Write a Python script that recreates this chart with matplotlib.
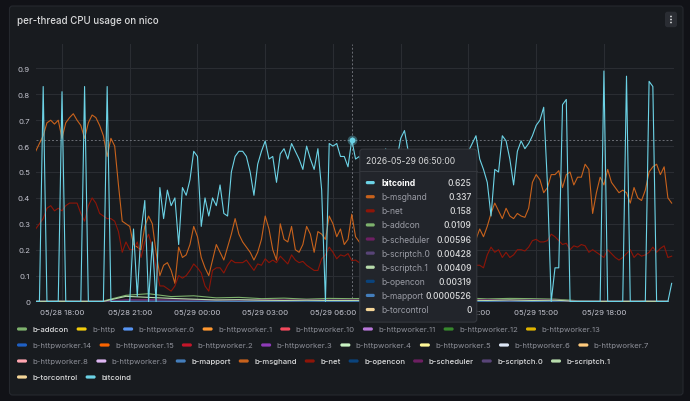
import numpy as np
import matplotlib.pyplot as plt
import matplotlib.dates as mdates
from matplotlib.patches import FancyBboxPatch, Circle
from matplotlib.transforms import Affine2D
from matplotlib.ticker import FuncFormatter, MultipleLocator
from datetime import datetime, timedelta

plt.rcParams['font.family'] = ['Inter', 'DejaVu Sans']

# ------------------------------------------------------------------
# data (CPU share per thread), 10 min samples for the busy threads,
# hourly samples for the quiet ones
# ------------------------------------------------------------------
start = datetime(2026, 5, 28, 16, 50)
step_main = timedelta(minutes=10)
step_small = timedelta(hours=1)
hover_time = datetime(2026, 5, 29, 6, 50)

bitcoind = [
    0, 0, 0.83, 0, 0, 0, 0, 0.81, 0, 0,
    0, 0, 0, 0.83, 0, 0, 0, 0, 0, 0.83,
    0, 0, 0, 0, 0, 0, 0.28, 0.02, 0.27, 0.39,
    0, 0.23, 0, 0.44, 0.32, 0.43, 0.37, 0.40, 0.22, 0.44,
    0.41, 0.47, 0.58, 0.56, 0.29, 0.40, 0.33, 0.40, 0.37, 0.45,
    0.34, 0.33, 0.50, 0.56, 0.58, 0.58, 0.56, 0.50, 0.41, 0.53,
    0.58, 0.62, 0.55, 0.56, 0.46, 0.57, 0.59, 0.55, 0.61, 0.58,
    0.55, 0.51, 0.60, 0.55, 0.51, 0.59, 0.43, 0.0, 0.61, 0.60,
    0.61, 0.56, 0.56, 0.52, 0.625, 0.55, 0.56, 0.52, 0.48, 0.55,
    0.50, 0.44, 0.53, 0.59, 0.54, 0.47, 0.55, 0.63, 0.66, 0.58,
    0.50, 0.53, 0.46, 0.55, 0.50, 0.42, 0.48, 0.56, 0.51, 0.45,
    0.52, 0.57, 0.49, 0.53, 0.56, 0.58, 0.61, 0.64, 0.55, 0.51,
    0.46, 0.33, 0.51, 0.50, 0.64, 0.62, 0.55, 0.45, 0.58, 0.62,
    0.59, 0.61, 0.64, 0.68, 0.70, 0.75, 0.45, 0.0, 0.13, 0.13,
    0.76, 0.78, 0.0, 0, 0, 0, 0, 0, 0, 0,
    0, 0.89, 0, 0, 0, 0, 0, 0.87, 0, 0,
    0, 0, 0, 0.85, 0.83, 0, 0, 0, 0, 0.07,
]
b_msghand = [
    0.58, 0.61, 0.64, 0.69, 0.70, 0.685, 0.70, 0.63, 0.69, 0.71,
    0.725, 0.70, 0.68, 0.63, 0.69, 0.72, 0.71, 0.68, 0.64, 0.56,
    0.63, 0.60, 0.45, 0.31, 0.30, 0.29, 0.22, 0.21, 0.20, 0.29,
    0.33, 0.30, 0.19, 0.10, 0.14, 0.15, 0.12, 0.07, 0.21, 0.17,
    0.18, 0.22, 0.29, 0.25, 0.17, 0.13, 0.10, 0.16, 0.22, 0.19,
    0.16, 0.21, 0.26, 0.32, 0.26, 0.23, 0.21, 0.19, 0.16, 0.19,
    0.24, 0.33, 0.28, 0.20, 0.16, 0.30, 0.24, 0.23, 0.29, 0.20,
    0.19, 0.22, 0.29, 0.26, 0.19, 0.27, 0.26, 0.24, 0.33, 0.30,
    0.25, 0.28, 0.22, 0.24, 0.337, 0.25, 0.23, 0.21, 0.25, 0.28,
    0.22, 0.18, 0.24, 0.30, 0.26, 0.21, 0.27, 0.32, 0.28, 0.23,
    0.19, 0.25, 0.29, 0.24, 0.20, 0.26, 0.31, 0.27, 0.22, 0.25,
    0.30, 0.26, 0.21, 0.24, 0.28, 0.23, 0.20, 0.24, 0.28, 0.25,
    0.29, 0.34, 0.38, 0.35, 0.32, 0.36, 0.33, 0.32, 0.34, 0.33,
    0.325, 0.36, 0.46, 0.49, 0.47, 0.42, 0.44, 0.49, 0.49, 0.505,
    0.44, 0.49, 0.50, 0.45, 0.48, 0.48, 0.53, 0.51, 0.34, 0.42,
    0.48, 0.45, 0.51, 0.46, 0.44, 0.42, 0.43, 0.42, 0.38, 0.44,
    0.40, 0.39, 0.43, 0.50, 0.52, 0.53, 0.49, 0.52, 0.40, 0.38,
]
b_net = [
    0.28, 0.30, 0.32, 0.36, 0.37, 0.35, 0.36, 0.35, 0.37, 0.38,
    0.38, 0.38, 0.34, 0.31, 0.37, 0.40, 0.38, 0.34, 0.33, 0.32,
    0.32, 0.31, 0.27, 0.19, 0.23, 0.20, 0.20, 0.23, 0.17, 0.23,
    0.26, 0.21, 0.13, 0.06, 0.06, 0.05, 0.04, 0.06, 0.10, 0.09,
    0.10, 0.12, 0.145, 0.13, 0.11, 0.06, 0.04, 0.12, 0.13, 0.13,
    0.11, 0.14, 0.16, 0.15, 0.15, 0.15, 0.16, 0.14, 0.12, 0.145,
    0.14, 0.165, 0.15, 0.16, 0.15, 0.175, 0.16, 0.145, 0.18, 0.16,
    0.15, 0.155, 0.14, 0.13, 0.12, 0.12, 0.165, 0.18, 0.21, 0.19,
    0.165, 0.18, 0.175, 0.185, 0.158, 0.16, 0.15, 0.14, 0.15, 0.13,
    0.14, 0.12, 0.15, 0.16, 0.14, 0.13, 0.15, 0.17, 0.15, 0.13,
    0.12, 0.14, 0.16, 0.15, 0.13, 0.14, 0.16, 0.15, 0.13, 0.14,
    0.15, 0.14, 0.12, 0.13, 0.15, 0.14, 0.13, 0.14, 0.14, 0.13,
    0.18, 0.21, 0.19, 0.20, 0.17, 0.19, 0.17, 0.18, 0.20, 0.20,
    0.195, 0.21, 0.235, 0.24, 0.23, 0.23, 0.235, 0.26, 0.25, 0.235,
    0.22, 0.225, 0.20, 0.215, 0.21, 0.22, 0.215, 0.19, 0.20, 0.19,
    0.18, 0.17, 0.20, 0.185, 0.17, 0.16, 0.17, 0.185, 0.20, 0.17,
    0.185, 0.175, 0.18, 0.19, 0.21, 0.19, 0.205, 0.215, 0.17, 0.175,
]
b_addcon = [0.002, 0.003, 0.002, 0.002, 0.024, 0.03, 0.019, 0.022, 0.014, 0.016,
            0.011, 0.013, 0.009, 0.012, 0.0109, 0.013, 0.010, 0.012, 0.009, 0.014,
            0.010, 0.012, 0.011, 0.009, 0.003, 0.002, 0.002, 0.003, 0.002]
b_scheduler = [0.001, 0.001, 0.001, 0.001, 0.007, 0.008, 0.006, 0.007, 0.006, 0.005,
               0.007, 0.006, 0.006, 0.005, 0.00596, 0.006, 0.007, 0.005, 0.006, 0.006,
               0.007, 0.005, 0.006, 0.006, 0.001, 0.001, 0.001, 0.001, 0.001]
b_scriptch0 = [0.0005, 0.0005, 0.0005, 0.0005, 0.005, 0.004, 0.005, 0.004, 0.004, 0.005,
               0.004, 0.003, 0.004, 0.005, 0.00428, 0.004, 0.003, 0.004, 0.005, 0.004,
               0.004, 0.003, 0.005, 0.004, 0.0005, 0.0005, 0.0005, 0.0005, 0.0005]
b_scriptch1 = [0.0005, 0.0005, 0.0005, 0.0005, 0.02, 0.016, 0.012, 0.009, 0.006, 0.007,
               0.005, 0.004, 0.005, 0.004, 0.00409, 0.005, 0.004, 0.006, 0.004, 0.005,
               0.004, 0.006, 0.004, 0.005, 0.0005, 0.0005, 0.0005, 0.0005, 0.0005]
b_opencon = [0.0003, 0.0003, 0.0003, 0.0003, 0.004, 0.003, 0.004, 0.003, 0.003, 0.004,
             0.003, 0.003, 0.002, 0.003, 0.00319, 0.003, 0.004, 0.003, 0.003, 0.002,
             0.003, 0.003, 0.004, 0.003, 0.0003, 0.0003, 0.0003, 0.0003, 0.0003]
b_mapport = [0.00005, 0.00005, 0.00005, 0.00005, 0.00005, 0.00005, 0.00005, 0.00005, 0.00005, 0.00005,
             0.00005, 0.00005, 0.00005, 0.00005, 0.0000526, 0.00005, 0.00005, 0.00005, 0.00005, 0.00005,
             0.00005, 0.00005, 0.00005, 0.00005, 0.00005, 0.00005, 0.00005, 0.00005, 0.00005]
b_torcontrol = [0, 0, 0, 0, 0, 0, 0, 0, 0, 0,
                0, 0, 0, 0, 0, 0, 0, 0, 0, 0,
                0, 0, 0, 0, 0, 0, 0, 0, 0]

legend_names = ['b-addcon', 'b-http', 'b-httpworker.0', 'b-httpworker.1', 'b-httpworker.10',
                'b-httpworker.11', 'b-httpworker.12', 'b-httpworker.13', 'b-httpworker.14',
                'b-httpworker.15', 'b-httpworker.2', 'b-httpworker.3', 'b-httpworker.4',
                'b-httpworker.5', 'b-httpworker.6', 'b-httpworker.7', 'b-httpworker.8',
                'b-httpworker.9', 'b-mapport', 'b-msghand', 'b-net', 'b-opencon',
                'b-scheduler', 'b-scriptch.0', 'b-scriptch.1', 'b-torcontrol', 'bitcoind']

# series actually shown on the graph (the others are toggled off)
shown = {
    'b-addcon': (b_addcon, step_small),
    'b-mapport': (b_mapport, step_small),
    'b-msghand': (b_msghand, step_main),
    'b-net': (b_net, step_main),
    'b-opencon': (b_opencon, step_small),
    'b-scheduler': (b_scheduler, step_small),
    'b-scriptch.0': (b_scriptch0, step_small),
    'b-scriptch.1': (b_scriptch1, step_small),
    'b-torcontrol': (b_torcontrol, step_small),
    'bitcoind': (bitcoind, step_main),
}

# ------------------------------------------------------------------
# styling
# ------------------------------------------------------------------
colors = {
    'b-addcon': '#7EB26D', 'b-http': '#F2CC0C', 'b-httpworker.0': '#5794F2',
    'b-httpworker.1': '#FF9830', 'b-httpworker.10': '#F2495C', 'b-httpworker.11': '#B877D9',
    'b-httpworker.12': '#37872D', 'b-httpworker.13': '#E0B400', 'b-httpworker.14': '#1F60C4',
    'b-httpworker.15': '#FA6400', 'b-httpworker.2': '#C4162A', 'b-httpworker.3': '#8F3BB8',
    'b-httpworker.4': '#C8F2C2', 'b-httpworker.5': '#FFF899', 'b-httpworker.6': '#DCE6F5',
    'b-httpworker.7': '#FFCB7D', 'b-httpworker.8': '#FFA6B0', 'b-httpworker.9': '#DEB6F2',
    'b-mapport': '#447EBC', 'b-msghand': '#C8621C', 'b-net': '#8E1508', 'b-opencon': '#0A437C',
    'b-scheduler': '#6D1F62', 'b-scriptch.0': '#584477', 'b-scriptch.1': '#B7DBAB',
    'b-torcontrol': '#F4D598', 'bitcoind': '#6CD3E6',
}

W, H, DPI = 690, 402, 100
BG = '#111217'
PANEL = '#181b1f'
TXT = '#d8d9da'
TXT_DIM = '#8e9099'
AXIS_TXT = '#c4c5cf'
GRID = '#2a2d32'

TITLE_FS = 7.0
TICK_FS = 5.6
LEG_FS = 5.6
TIP_FS = 6.1

fig = plt.figure(figsize=(W / DPI, H / DPI), dpi=DPI, facecolor=BG)
# pixel coordinates, origin at top-left
pix = Affine2D().scale(1 / DPI, -1 / DPI).translate(0, H / DPI) + fig.dpi_scale_trans

# panel
fig.add_artist(FancyBboxPatch((9.5, 7), 673.5, 389, boxstyle='round,pad=0,rounding_size=3',
                              transform=pix, fc=PANEL, ec='#25282e', lw=0.8, zorder=0))
fig.text(17, 21, 'per-thread CPU usage on nico', transform=pix, fontsize=TITLE_FS,
         color=TXT, weight='medium', va='center', ha='left')
# menu button
fig.add_artist(FancyBboxPatch((665, 12.7), 12, 15.5, boxstyle='round,pad=0,rounding_size=2.5',
                              transform=pix, fc='#2a2d33', ec='none', zorder=1))
for dy in (-3, 0, 3):
    fig.add_artist(Circle((671, 20.5 + dy), 0.9, transform=pix, fc='#d8d9da', ec='none', zorder=2))

# ------------------------------------------------------------------
# plot area
# ------------------------------------------------------------------
x_left, x_right, y_top, y_bot = 35.66, 674.0, 45.0, 302.5
px_per_hour = 22.58
ax = fig.add_axes([x_left / W, 1 - y_bot / H, (x_right - x_left) / W, (y_bot - y_top) / H])
ax.patch.set_visible(False)
for s in ax.spines.values():
    s.set_visible(False)

for name in legend_names:
    if name not in shown:
        continue
    vals, step = shown[name]
    t = [start + k * step for k in range(len(vals))]
    ax.plot(t, vals, color=colors[name], lw=0.8, solid_joinstyle='round', zorder=3)

t_end = start + timedelta(hours=(x_right - x_left) / px_per_hour)
ax.set_xlim(start, t_end)
ax.set_ylim(0, (y_bot - y_top) / 259.0)

# 3-hourly ticks, leaving out one that would not fit at the right edge
xticks = []
tk = datetime(2026, 5, 28, 18, 0)
while tk <= t_end - timedelta(hours=1):
    xticks.append(tk)
    tk += timedelta(hours=3)
ax.set_xticks(xticks)
ax.xaxis.set_major_formatter(mdates.DateFormatter('%m/%d %H:%M'))
ax.yaxis.set_major_locator(MultipleLocator(0.1))
ax.yaxis.set_major_formatter(FuncFormatter(lambda v, p: '0' if abs(v) < 1e-9 else f'{v:.1f}'))
ax.tick_params(length=0, labelsize=TICK_FS, labelcolor=AXIS_TXT)
ax.tick_params(axis='x', pad=5.2)
ax.tick_params(axis='y', pad=4.0)
ax.grid(True, color=GRID, lw=0.8, zorder=0)

# hover crosshair + point
hover_val = bitcoind[int((hover_time - start) / step_main)]
ax.axhline(hover_val, color='#6b6e75', lw=0.7, ls=(0, (2, 2)), zorder=2)
ax.axvline(hover_time, color='#6b6e75', lw=0.7, ls=(0, (2, 2)), zorder=2)
ax.plot([hover_time], [hover_val], 'o', ms=7, color=colors['bitcoind'], alpha=0.35, mec='none', zorder=4)
ax.plot([hover_time], [hover_val], 'o', ms=4.2, color=colors['bitcoind'], mec='none', zorder=5)

# ------------------------------------------------------------------
# legend (flow layout, grafana style)
# ------------------------------------------------------------------
renderer = fig.canvas.get_renderer()
lx, row = 17.0, 0
for name in legend_names:
    t = fig.text(0, 0, name, transform=pix, fontsize=LEG_FS, va='center', ha='left',
                 color=TXT if name in shown else TXT_DIM,
                 weight='medium' if name in shown else 'normal')
    w = t.get_window_extent(renderer).width
    item_w = 10 + 5.5 + w
    if lx + item_w > 678 and lx > 17:
        row += 1
        lx = 17.0
    ly = 330 + 16 * row
    t.set_position((lx + 15.5, ly))
    fig.add_artist(FancyBboxPatch((lx, ly - 1.6), 10, 3.2, boxstyle='round,pad=0,rounding_size=1.5',
                                  transform=pix, fc=colors[name], ec='none'))
    lx += item_w + 8

# ------------------------------------------------------------------
# tooltip
# ------------------------------------------------------------------
hx, hy_disp = ax.transData.transform((mdates.date2num(hover_time), hover_val))
hy = H - hy_disp
tl, tt = hx + 8, hy + 9.5
tw, th = 117, 173
fig.add_artist(FancyBboxPatch((tl, tt), tw, th, boxstyle='round,pad=0,rounding_size=3',
                              transform=pix, fc='#22252b', ec='#34373d', lw=0.8, zorder=20))
fig.text(tl + 6, tt + 11.5, hover_time.strftime('%Y-%m-%d %H:%M:%S'), transform=pix,
         fontsize=TIP_FS, color=TXT, va='center', ha='left', zorder=21)
fig.add_artist(plt.Line2D([tl, tl + tw], [tt + 22, tt + 22], transform=pix, color='#34373d', lw=0.8, zorder=21))

rows = []
for name, (vals, step) in shown.items():
    k = int((hover_time - start) / step)
    rows.append((vals[k], name))
rows.sort(key=lambda r: -r[0])


def fmt(v):
    return np.format_float_positional(v, precision=3, unique=False, fractional=False, trim='-')


for n, (v, name) in enumerate(rows):
    ry = tt + 33.5 + 14.1 * n
    first = n == 0
    fig.add_artist(FancyBboxPatch((tl + 6, ry - 1.6), 9, 3.2, boxstyle='round,pad=0,rounding_size=1.5',
                                  transform=pix, fc=colors[name], ec='none', zorder=21))
    fig.text(tl + 22, ry, name, transform=pix, fontsize=TIP_FS, va='center', ha='left',
             color='#ffffff' if first else '#9a9ca5', weight='bold' if first else 'normal', zorder=21)
    fig.text(tl + 112, ry, fmt(v), transform=pix, fontsize=TIP_FS, va='center', ha='right',
             color=TXT, weight='medium', zorder=21)

fig.savefig('out.png', dpi=DPI, facecolor=BG)
